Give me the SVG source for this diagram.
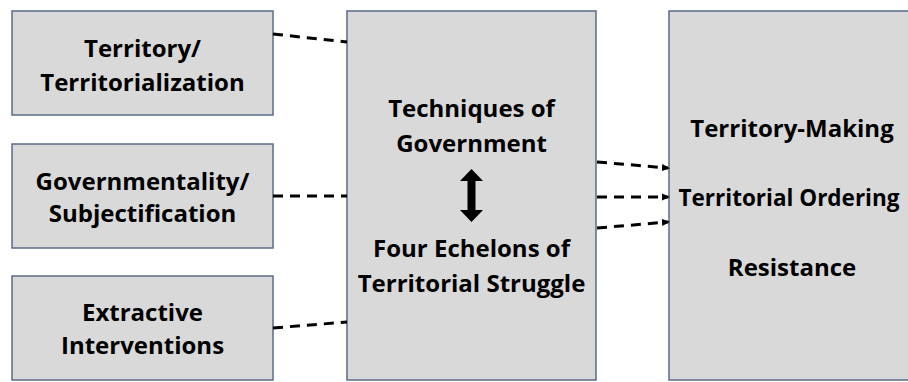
<svg xmlns="http://www.w3.org/2000/svg" width="908" height="382" viewBox="0 0 908 382">
<defs>
<style>
.box{fill:#d9d9d9;stroke:#5b6b86;stroke-width:1.5}
.t{font-family:"Open Sans","Liberation Sans",sans-serif;font-weight:bold;font-size:24px;fill:#000;text-anchor:middle}
.c{fill:none;stroke:#000;stroke-width:3;stroke-dasharray:10 7}
</style>
<marker id="ah" markerWidth="8" markerHeight="8" refX="6" refY="4" orient="auto" markerUnits="userSpaceOnUse"><path d="M0,0.5 L8,4 L0,7.5 Z" fill="#000"/></marker>
</defs>
<rect width="908" height="382" fill="#fff"/>
<g id="territory">
<rect class="box" x="12" y="11" width="261" height="104"/>
<text class="t" x="142.5" y="57">Territory/</text>
<text class="t" x="142.5" y="91">Territorialization</text>
</g>
<g id="governmentality">
<rect class="box" x="12" y="144" width="261" height="104"/>
<text class="t" x="142.5" y="190">Governmentality/</text>
<text class="t" x="142.5" y="222">Subjectification</text>
</g>
<g id="extractive">
<rect class="box" x="12" y="276" width="261" height="104"/>
<text class="t" x="142.5" y="321">Extractive</text>
<text class="t" x="142.5" y="354">Interventions</text>
</g>
<g id="center">
<rect class="box" x="347" y="11" width="249" height="369"/>
<text class="t" x="471.5" y="117">Techniques of</text>
<text class="t" x="471.5" y="152">Government</text>
<path d="M471.5,169 L483,181 L475.5,181 L475.5,210 L483,210 L471.5,222 L460,210 L467.5,210 L467.5,181 L460,181 Z" fill="#000"/>
<text class="t" x="471.5" y="257">Four Echelons of</text>
<text class="t" x="471.5" y="292">Territorial Struggle</text>
</g>
<g id="outcomes">
<rect class="box" x="669" y="11" width="241" height="369"/>
<text class="t" x="789" y="206" style="font-size:22.5px">Territorial Ordering</text>
<text class="t" x="792" y="137">Territory-Making</text>
<text class="t" x="792" y="276">Resistance</text>
</g>
<g id="connectors">
<path class="c" d="M273,34 L347,42"/>
<path class="c" d="M273,196 L347,196"/>
<path class="c" d="M273,328 L347,322"/>
<path class="c" d="M597,162 L668,168" marker-end="url(#ah)"/>
<path class="c" d="M597,197 L668,197" marker-end="url(#ah)"/>
<path class="c" d="M597,228 L668,222" marker-end="url(#ah)"/>
</g>
</svg>
